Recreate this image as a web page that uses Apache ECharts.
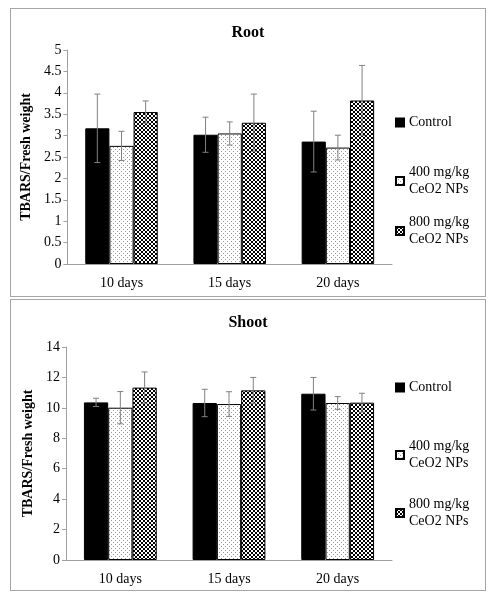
<!DOCTYPE html>
<html><head><meta charset="utf-8">
<script src="https://cdn.jsdelivr.net/npm/echarts@6/dist/echarts.min.js"></script>
<style>
html,body{margin:0;padding:0;background:#fff;}
.box{position:absolute;border:1px solid #a6a6a6;background:#fff;}
#c1{left:10px;top:8px;width:474px;height:287px;}
#c2{left:10px;top:299px;width:474px;height:290px;}
</style></head><body>
<div id="c1" class="box"></div>
<div id="c2" class="box"></div>
<script>
const categories = ['10 days', '15 days', '20 days'];
const seriesNames = ['Control', '400 mg/kg\nCeO2 NPs', '800 mg/kg\nCeO2 NPs'];

const rootControl = [3.17, 3.02, 2.86];
const rootControlErr = [0.80, 0.41, 0.71];
const root400 = [2.76, 3.05, 2.72];
const root400Err = [0.34, 0.27, 0.29];
const root800 = [3.55, 3.30, 3.82];
const root800Err = [0.26, 0.67, 0.82];

const shootControl = [10.36, 10.32, 10.93];
const shootControlErr = [0.27, 0.90, 1.07];
const shoot400 = [10.01, 10.25, 10.32];
const shoot400Err = [1.06, 0.81, 0.42];
const shoot800 = [11.33, 11.15, 10.34];
const shoot800Err = [1.03, 0.85, 0.62];

const rootTicks = {min: 0, max: 5, interval: 0.5};
const shootTicks = {min: 0, max: 14, interval: 2};

function makeDots() {
  const c = document.createElement('canvas'); c.width = 4; c.height = 4;
  const g = c.getContext('2d');
  g.fillStyle = '#fff'; g.fillRect(0, 0, 4, 4);
  g.fillStyle = '#9a9a9a'; g.fillRect(0, 0, 1, 1); g.fillRect(2, 2, 1, 1);
  return c;
}
function makeChecker() {
  const c = document.createElement('canvas'); c.width = 4; c.height = 4;
  const g = c.getContext('2d');
  g.fillStyle = '#fff'; g.fillRect(0, 0, 4, 4);
  g.fillStyle = '#000'; g.fillRect(0, 0, 2, 2); g.fillRect(2, 2, 2, 2);
  return c;
}
const fills = ['#000', {image: makeDots(), repeat: 'repeat'}, {image: makeChecker(), repeat: 'repeat'}];

const FONT = 'Liberation Serif';
const GAP = 0.33;

function buildOption(title, vals, errs, ticks, grid, titleTop, legendTops) {
  const series = [];
  vals.forEach((v, i) => {
    series.push({
      name: seriesNames[i], type: 'bar', data: v, barGap: '0%', barCategoryGap: (GAP * 100) + '%',
      itemStyle: {color: fills[i], borderColor: '#000', borderWidth: 1},
      emphasis: {disabled: true}, z: 2
    });
  });
  const errData = [];
  vals.forEach((v, i) => v.forEach((y, k) => errData.push([k, y - errs[i][k], y + errs[i][k], i])));
  series.push({
    type: 'custom', z: 5, silent: true,
    encode: {x: 0, y: [1, 2]},
    data: errData,
    renderItem: function (params, api) {
      const k = api.value(0), lo = api.value(1), hi = api.value(2), si = api.value(3);
      const band = api.size([1, 0])[0];
      const bw = band * (1 - GAP) / 3;
      const c = api.coord([k, lo]);
      const x = c[0] + (si - 1) * bw;
      const yLo = c[1], yHi = api.coord([k, hi])[1];
      const cap = 3;
      const st = {stroke: '#808080', lineWidth: 1};
      return {type: 'group', children: [
        {type: 'line', shape: {x1: x, y1: yLo, x2: x, y2: yHi}, style: st},
        {type: 'line', shape: {x1: x - cap, y1: yHi, x2: x + cap, y2: yHi}, style: st},
        {type: 'line', shape: {x1: x - cap, y1: yLo, x2: x + cap, y2: yLo}, style: st}
      ]};
    }
  });
  const legends = seriesNames.map((n, i) => ({
    data: [n], left: 379, top: legendTops[i], orient: 'vertical',
    itemWidth: 8, itemHeight: 8, itemGap: 4, icon: 'rect',
    textStyle: {fontFamily: FONT, fontSize: 14, color: '#000', lineHeight: 17, align: 'left'},
    selectedMode: false
  }));
  return {
    animation: false,
    textStyle: {fontFamily: FONT},
    title: {text: title, left: 'center', top: titleTop,
      textStyle: {fontFamily: FONT, fontSize: 16, fontWeight: 'bold', color: '#000'}},
    legend: legends,
    grid: grid,
    xAxis: {type: 'category', data: categories,
      axisLine: {lineStyle: {color: '#a0a0a0'}}, axisTick: {show: false},
      axisLabel: {fontFamily: FONT, fontSize: 14, color: '#000', margin: 12}},
    yAxis: {type: 'value', min: ticks.min, max: ticks.max, interval: ticks.interval,
      name: 'TBARS/Fresh weight', nameLocation: 'middle', nameGap: 31,
      nameTextStyle: {fontFamily: FONT, fontSize: 14, fontWeight: 'bold', color: '#000'},
      axisLine: {show: true, lineStyle: {color: '#a0a0a0'}},
      axisTick: {show: true, length: 4, lineStyle: {color: '#a0a0a0'}},
      splitLine: {show: false},
      axisLabel: {fontFamily: FONT, fontSize: 14, color: '#000', margin: 6}},
    series: series
  };
}

const ch1 = echarts.init(document.getElementById('c1'));
ch1.setOption(buildOption('Root', [rootControl, root400, root800],
  [rootControlErr, root400Err, root800Err], rootTicks,
  {left: 56, top: 41, width: 325, height: 214}, 11, [100, 150, 200]));

const ch2 = echarts.init(document.getElementById('c2'));
ch2.setOption(buildOption('Shoot', [shootControl, shoot400, shoot800],
  [shootControlErr, shoot400Err, shoot800Err], shootTicks,
  {left: 55, top: 47, width: 326, height: 213}, 10, [74, 133, 191]));
</script>
</body></html>
